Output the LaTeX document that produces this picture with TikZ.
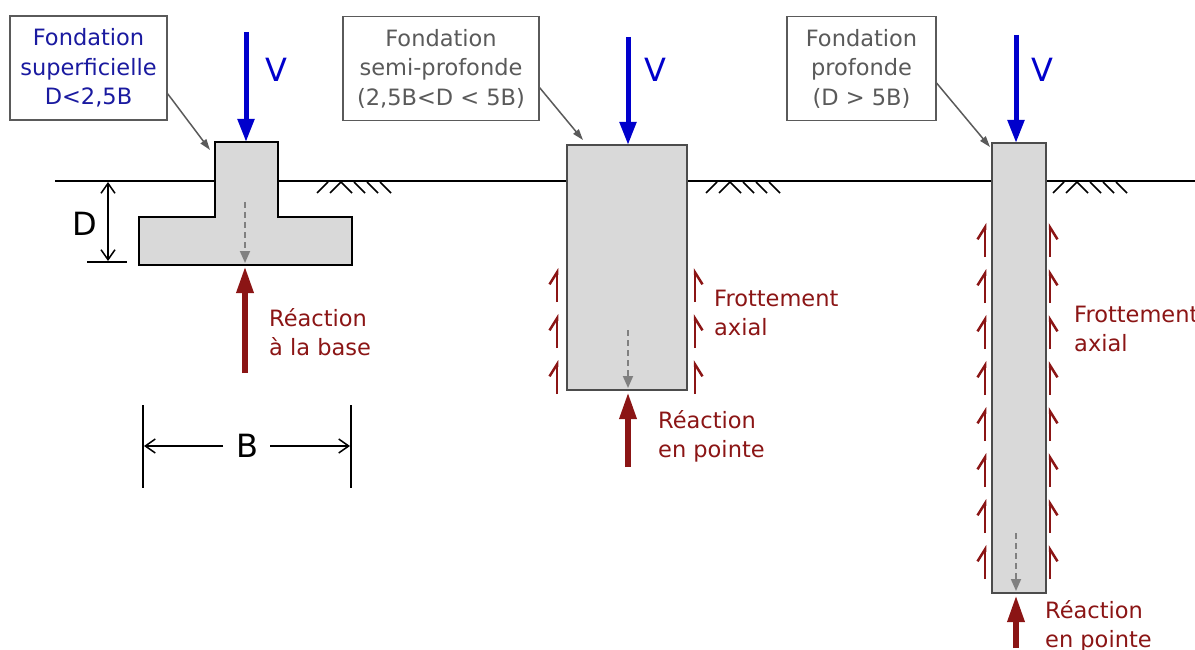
\documentclass[tikz,border=0pt]{standalone}
\usepackage{fontspec}
\setmainfont{DejaVu Sans}
\usetikzlibrary{arrows.meta}
\definecolor{navyblue}{HTML}{1A1AA0}
\definecolor{vblue}{HTML}{0000CC}
\definecolor{darkred}{HTML}{8B1515}
\definecolor{boxgray}{HTML}{5A5A5A}
\definecolor{fillgray}{HTML}{D9D9D9}
\newcommand{\Hatch}[1]{%
    \draw[hatch] (#1,193) -- ++(11,-11) (#1+13,193) -- ++(11,-11);
    \foreach \k in {0,...,3} \draw[hatch] (#1+24+13*\k,182) -- ++(11,11);}
\tikzset{
    callout/.style={draw=boxgray, line width=1.3pt, fill=white, align=center, inner sep=0pt,
        minimum height=104pt, font=\fontsize{22.5}{29.5}\selectfont},
    lbl/.style={darkred, align=left, inner sep=0pt, anchor=west, font=\fontsize{22.5}{29}\selectfont},
    big/.style={inner sep=0pt, font=\fontsize{32}{36}\selectfont},
    found/.style={fill=fillgray, line width=2.5pt, line join=miter},
    hatch/.style={line width=1.5pt},
    load/.style={vblue, line width=5pt, -{Triangle[length=23pt,width=16pt]}},
    react/.style={darkred, line width=6pt, -{Triangle[length=27pt,width=16pt]}},
    inner/.style={gray, line width=1.8pt, dash pattern=on 6pt off 4pt, -{Triangle[length=12pt,width=10pt]}},
    pointer/.style={boxgray, line width=1.5pt, -{Triangle[length=11pt,width=7pt]}},
    fricl/.style={darkred, line width=2.5pt, -{Straight Barb[harpoon,length=12pt,width=15pt]}},
    fricr/.style={darkred, line width=2.5pt, -{Straight Barb[harpoon,swap,length=12pt,width=15pt]}},
    dim/.style={line width=1.5pt},
    dimtip/.style={-{Straight Barb[length=10pt,width=14pt]}},
    dimboth/.style={{Straight Barb[length=10pt,width=14pt]}-{Straight Barb[length=10pt,width=14pt]}}
}

\begin{document}
\begin{tikzpicture}[x=1pt,y=-1pt]
    \useasboundingbox (0,0) rectangle (1195,650);

    % ground
    \draw[line width=2pt] (55,181) -- (1195,181);
    \Hatch{317}
    \Hatch{706}
    \Hatch{1053}

    % foundations
    \draw[found, draw=black] (215,142) -- (278,142) -- (278,217) -- (352,217) -- (352,265)
        -- (139,265) -- (139,217) -- (215,217) -- cycle;
    \draw[found, draw=black!70] (567,145) rectangle (687,390);
    \draw[found, draw=black!70] (992,143) rectangle (1046,593);

    % callouts
    \draw(88.5,68) node[callout, text=navyblue, minimum width=157pt] (boxa) {Fondation\\superficielle\\D<2,5B};
    \draw(441,68.5) node[callout, text=boxgray, minimum width=196pt] (boxb) {Fondation\\semi-profonde\\(2,5B<D < 5B)};
    \draw(861.5,68.5) node[callout, text=boxgray, minimum width=149pt] (boxc) {Fondation\\profonde\\ (D > 5B)};
    \coordinate (pa) at (210,150);
    \coordinate (pb) at (583,140);
    \coordinate (pc) at (990,147);
    \draw[pointer] (boxa.-18) -- (pa);
    \draw[pointer] (boxb.-11) -- (pb);
    \draw[pointer] (boxc.-11) -- (pc);

    % loads
    \coordinate (va) at (246,32);  \coordinate (ta) at (246,142);
    \coordinate (vb) at (628,37);  \coordinate (tb) at (628,145);
    \coordinate (vc) at (1016,35); \coordinate (tc) at (1016,143);
    \draw[load] (va) -- (ta);
    \draw[load] (vb) -- (tb);
    \draw[load] (vc) -- (tc);
    \draw(276,70) node[big, text=vblue] (la) {V};
    \draw(655,70) node[big, text=vblue] (lb) {V};
    \draw(1042,70) node[big, text=vblue] (lc) {V};

    % transmitted load
    \draw[inner] (245,202) -- (245,263);
    \draw[inner] (628,330) -- (628,388);
    \draw[inner] (1016,533) -- (1016,591);

    % reactions
    \coordinate (ra) at (245,373);  \coordinate (sa) at (245,266);
    \coordinate (rb) at (628,467);  \coordinate (sb) at (628,392);
    \coordinate (rc) at (1016,648); \coordinate (sc) at (1016,595);
    \draw[react] (ra) -- (sa);
    \draw[react] (rb) -- (sb);
    \draw[react] (rc) -- (sc);
    \draw(269,332) node[lbl] (reaca) {Réaction\\à la base};
    \draw(658,436) node[lbl] (reacb) {Réaction\\en pointe};
    \draw(1045,626) node[lbl] (reacc) {Réaction\\en pointe};

    % friction
    \foreach \y in {268,314,360} {
        \draw[fricl] (557,\y+34) -- (557,\y);
        \draw[fricr] (695,\y+34) -- (695,\y);
    }
    \foreach \y in {223,269,...,545} {
        \draw[fricl] (985,\y+34) -- (985,\y);
        \draw[fricr] (1050,\y+34) -- (1050,\y);
    }
    \draw(714,313) node[lbl] (froa) {Frottement\\axial};
    \draw(1074,329) node[lbl] (frob) {Frottement\\axial};

    % dimensions
    \draw[dim] (87,262) -- (127,262);
    \draw[dim, dimboth] (108,182) -- (108,261);
    \draw(85,224) node[big] (d) {D};
    \draw[dim] (143,405) -- (143,488);
    \draw[dim] (351,405) -- (351,488);
    \draw(247,446) node[big] (b) {B};
    \coordinate (bl) at (144,446);
    \coordinate (br) at (350,446);
    \draw[dim, dimtip] (223,446) -- (bl);
    \draw[dim, dimtip] (270,446) -- (br);

\end{tikzpicture}
\end{document}
